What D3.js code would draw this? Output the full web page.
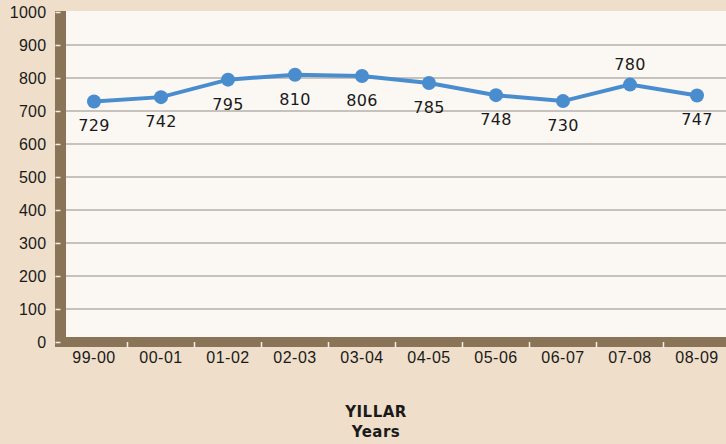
<!DOCTYPE html>
<html>
<head>
<meta charset="utf-8">
<script src="https://cdn.jsdelivr.net/npm/d3@7"></script>
<style>
  body { margin: 0; background: #EFDFCA; }
  svg { display: block; font-family: "DejaVu Sans", sans-serif; }
</style>
</head>
<body>
<script>
// data
var years = ["99-00", "00-01", "01-02", "02-03", "03-04", "04-05", "05-06", "06-07", "07-08", "08-09"];
var values = [729, 742, 795, 810, 806, 785, 748, 730, 780, 747];
var labelAbove = [false, false, false, false, false, false, false, false, true, false];
var yTicks = [0, 100, 200, 300, 400, 500, 600, 700, 800, 900, 1000];

var width = 726, height = 444;
var wallX = 60.5, floorY = 342;

var svg = d3.select("body").append("svg")
    .attr("width", width)
    .attr("height", height);

var x = d3.scaleBand()
    .domain(years)
    .range([wallX, wallX + 670]);

var y = d3.scaleLinear()
    .domain([0, 1000])
    .range([floorY, 12]);

// plot background
svg.append("rect")
    .attr("x", wallX)
    .attr("y", 11)
    .attr("width", width - wallX)
    .attr("height", floorY - 11)
    .attr("fill", "#FBF8F3");

// gridlines
svg.selectAll(".grid")
    .data(yTicks.filter(function(d) { return d > 0 && d < 1000; }))
    .enter()
    .append("line")
    .attr("class", "grid")
    .attr("x1", wallX)
    .attr("x2", width)
    .attr("y1", function(d) { return y(d); })
    .attr("y2", function(d) { return y(d); })
    .attr("stroke", "#B4B1AC")
    .attr("stroke-width", 1.5);

// thick wall and floor
svg.append("line")
    .attr("x1", wallX).attr("x2", wallX)
    .attr("y1", 11).attr("y2", floorY + 5)
    .attr("stroke", "#8A7457")
    .attr("stroke-width", 11);

svg.append("line")
    .attr("x1", wallX - 5.5).attr("x2", width)
    .attr("y1", floorY).attr("y2", floorY)
    .attr("stroke", "#8A7457")
    .attr("stroke-width", 10);

// y axis
var yAxis = d3.axisLeft(y)
    .tickValues(yTicks)
    .tickFormat(d3.format("d"))
    .tickSize(5)
    .tickPadding(9);

var yg = svg.append("g")
    .attr("transform", "translate(" + wallX + ",0)")
    .call(yAxis);
yg.select(".domain").remove();
yg.selectAll(".tick line").attr("stroke", "#F4EEE6").attr("stroke-width", 1.5);
yg.selectAll(".tick text")
    .attr("fill", "#1a1a1a")
    .style("font-size", "16px")
    .style("letter-spacing", "0.3px");

// x axis
var xAxis = d3.axisBottom(x)
    .tickSize(0)
    .tickPadding(10);

var xg = svg.append("g")
    .attr("transform", "translate(0," + floorY + ")")
    .call(xAxis);
xg.select(".domain").remove();
xg.selectAll(".tick text")
    .attr("fill", "#1a1a1a")
    .style("font-size", "16px")
    .style("letter-spacing", "0.5px");

// category separators on the floor
svg.selectAll(".xsep")
    .data(years.slice(1))
    .enter()
    .append("line")
    .attr("class", "xsep")
    .attr("x1", function(d) { return x(d); })
    .attr("x2", function(d) { return x(d); })
    .attr("y1", floorY)
    .attr("y2", floorY + 6)
    .attr("stroke", "#F4EEE6")
    .attr("stroke-width", 1.5);

// series line
var line = d3.line()
    .x(function(d, i) { return x(years[i]) + x.bandwidth() / 2; })
    .y(function(d) { return y(d); });

svg.append("path")
    .datum(values)
    .attr("d", line)
    .attr("fill", "none")
    .attr("stroke", "#4A8DCF")
    .attr("stroke-width", 4);

svg.selectAll(".dot")
    .data(values)
    .enter()
    .append("circle")
    .attr("class", "dot")
    .attr("cx", function(d, i) { return x(years[i]) + x.bandwidth() / 2; })
    .attr("cy", function(d) { return y(d); })
    .attr("r", 7)
    .attr("fill", "#4A8DCF");

// value labels
svg.selectAll(".val")
    .data(values)
    .enter()
    .append("text")
    .attr("class", "val")
    .attr("x", function(d, i) { return x(years[i]) + x.bandwidth() / 2; })
    .attr("y", function(d, i) { return labelAbove[i] ? y(d) - 15 : y(d) + 30; })
    .attr("text-anchor", "middle")
    .attr("fill", "#1a1a1a")
    .style("font-size", "16px")
    .style("letter-spacing", "0.3px")
    .text(function(d) { return d; });

// axis title
svg.append("text")
    .attr("x", 376).attr("y", 417)
    .attr("text-anchor", "middle")
    .attr("fill", "#1a1a1a")
    .style("font-size", "15px")
    .style("font-weight", "bold")
    .style("letter-spacing", "0.5px")
    .text("YILLAR");

svg.append("text")
    .attr("x", 376).attr("y", 437)
    .attr("text-anchor", "middle")
    .attr("fill", "#1a1a1a")
    .style("font-size", "15px")
    .style("font-weight", "bold")
    .style("letter-spacing", "0.5px")
    .text("Years");
</script>
</body>
</html>
